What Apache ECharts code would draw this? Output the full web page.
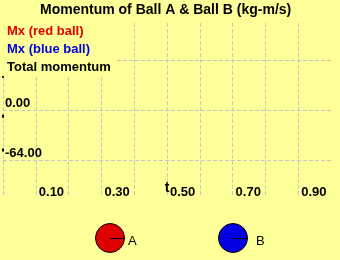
<!DOCTYPE html>
<html><head><meta charset="utf-8">
<script src="https://cdn.jsdelivr.net/npm/echarts@6/dist/echarts.min.js"></script>
<style>html,body{margin:0;padding:0;background:#ffff99}#c{width:340px;height:260px}</style>
</head><body><div id="c"></div>
<script>
const chartTitle = 'Momentum of Ball A & Ball B (kg-m/s)';
const seriesNames = ['Mx (red ball)', 'Mx (blue ball)', 'Total momentum'];
const seriesColors = ['#e00000', '#0000e0', '#000000'];
const timeValues = [0];
const redMx = [43];
const blueMx = [-51];
const totalMx = [-8];
const xTickLabels = [0.1, 0.3, 0.5, 0.7, 0.9];
const yGridValues = [-64, 0, 64];
const yTickLabels = [0, -64];
const xAxisName = 't';
const ballLabels = ['A', 'B'];

const FONT = "'Liberation Sans', Arial, sans-serif";
const bg = '#ffff99';
const gridLine = { show: true, lineStyle: { color: '#c8c8c8', type: [4, 2], width: 1 } };

function pts(vals) { return timeValues.map((t, i) => [t, vals[i]]); }
const seriesVals = [redMx, blueMx, totalMx];

const chart = echarts.init(document.getElementById('c'), null, { renderer: 'canvas' });
chart.setOption({
  backgroundColor: bg,
  animation: false,
  title: {
    text: chartTitle, left: 40, top: 3, padding: 0,
    textStyle: { fontFamily: FONT, fontSize: 14, fontWeight: 'bold', color: '#000' }
  },
  legend: {
    orient: 'vertical', left: 0, top: 22, padding: [0, 4, 0, 2],
    itemWidth: 0, itemHeight: 18, itemGap: 0, icon: 'rect',
    selectedMode: false, backgroundColor: bg, z: 10,
    itemStyle: { opacity: 0 }, lineStyle: { opacity: 0 },
    textStyle: { fontFamily: FONT, fontSize: 13, fontWeight: 'bold' },
    data: seriesNames.map((n, i) => ({ name: n, textStyle: { color: seriesColors[i] } }))
  },
  grid: { left: 3, right: 9, top: 23, bottom: 63, containLabel: false },
  xAxis: {
    type: 'value', min: 0, max: 1.0, interval: 0.1,
    name: xAxisName, nameLocation: 'middle', nameGap: -9, nameMoveOverlap: false,
    nameTextStyle: { fontFamily: FONT, fontSize: 14, fontWeight: 'bold', color: '#000',
      verticalAlign: 'middle' },
    axisLine: { show: false }, axisTick: { show: false },
    splitLine: Object.assign({ showMaxLine: false, showMinLine: true }, gridLine),
    axisLabel: {
      inside: true, margin: 5, align: 'left', verticalAlign: 'middle', padding: [0, 0, 0, 3],
      customValues: xTickLabels,
      formatter: v => v.toFixed(2),
      fontFamily: FONT, fontSize: 13, fontWeight: 'bold', color: '#000'
    }
  },
  yAxis: {
    type: 'value', min: -111, max: 111,
    axisLine: { show: false },
    axisTick: { show: false, customValues: yGridValues },
    splitLine: gridLine,
    axisLabel: {
      inside: true, margin: 2, align: 'left', verticalAlign: 'bottom', lineHeight: 13, padding: [0, 0, 0, 0],
      customValues: yTickLabels,
      formatter: v => v.toFixed(2),
      fontFamily: FONT, fontSize: 13, fontWeight: 'bold', color: '#000'
    }
  },
  series: seriesNames.map((n, i) => ({
    name: n, type: 'line', data: pts(seriesVals[i]),
    color: seriesColors[i],
    symbol: 'rect', symbolSize: [2, 3], showSymbol: true,
    itemStyle: { color: '#000' }, lineStyle: { color: seriesColors[i], width: 1 },
    clip: false, z: 3
  })),
  graphic: [
    { type: 'circle', shape: { cx: 110, cy: 238, r: 14.5 }, style: { fill: '#e00000', stroke: '#000', lineWidth: 1 } },
    { type: 'line', shape: { x1: 110, y1: 238.5, x2: 125, y2: 238.5 }, style: { stroke: '#000', lineWidth: 1 } },
    { type: 'text', style: { text: ballLabels[0], x: 128, y: 241, verticalAlign: 'middle', font: '13px ' + FONT, fill: '#000' } },
    { type: 'circle', shape: { cx: 233, cy: 238, r: 14.5 }, style: { fill: '#0000e0', stroke: '#000', lineWidth: 1 } },
    { type: 'line', shape: { x1: 233, y1: 238.5, x2: 248, y2: 238.5 }, style: { stroke: '#000', lineWidth: 1 } },
    { type: 'text', style: { text: ballLabels[1], x: 256, y: 241, verticalAlign: 'middle', font: '13px ' + FONT, fill: '#000' } }
  ]
});
</script></body></html>
